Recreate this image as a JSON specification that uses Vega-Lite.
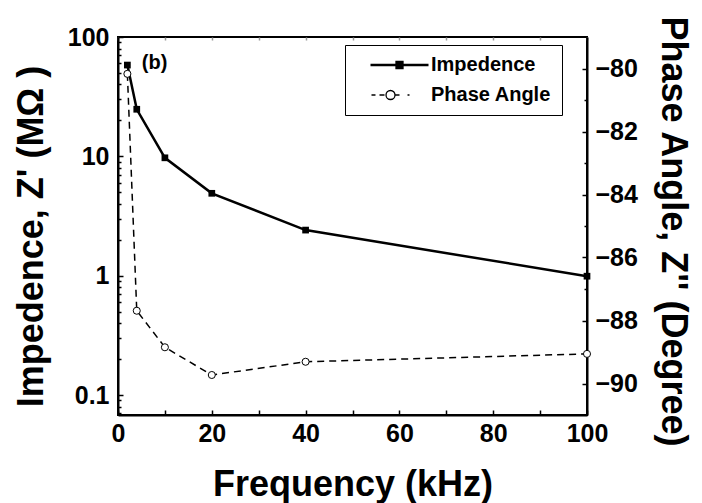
{
  "$schema": "https://vega.github.io/schema/vega-lite/v6.json",
  "autosize": {"type": "none"},
  "padding": {"left": 118, "top": 37, "right": 115, "bottom": 88},
  "width": 469,
  "height": 378,
  "background": "white",
  "datasets": {
    "imp": [
      {"freq": 2, "value": 58.2, "series": "Impedence"},
      {"freq": 4, "value": 24.8, "series": "Impedence"},
      {"freq": 10, "value": 9.72, "series": "Impedence"},
      {"freq": 20, "value": 4.9, "series": "Impedence"},
      {"freq": 40, "value": 2.41, "series": "Impedence"},
      {"freq": 100, "value": 0.99, "series": "Impedence"}
    ],
    "phase": [
      {"freq": 2, "value": -80.17, "series": "Phase Angle"},
      {"freq": 4, "value": -87.69, "series": "Phase Angle"},
      {"freq": 10, "value": -88.85, "series": "Phase Angle"},
      {"freq": 20, "value": -89.73, "series": "Phase Angle"},
      {"freq": 40, "value": -89.31, "series": "Phase Angle"},
      {"freq": 100, "value": -89.06, "series": "Phase Angle"}
    ],
    "series": [{"series": "Impedence"}, {"series": "Phase Angle"}],
    "note": [{"label": "(b)"}]
  },
  "layer": [
    {
      "data": {"name": "imp"},
      "mark": {"type": "line", "color": "black", "strokeWidth": 2.5},
      "encoding": {
        "x": {"field": "freq", "type": "quantitative", "scale": {"domain": [0, 100], "nice": false, "zero": false},
          "axis": {"orient": "bottom", "values": [0, 20, 40, 60, 80, 100], "ticks": false, "tickSize": 0, "labelPadding": 6, "labelFlush": false, "title": "Frequency (kHz)", "titleY": 80, "titleBaseline": "alphabetic"}},
        "y": {"field": "value", "type": "quantitative", "scale": {"type": "log", "domain": [0.068, 100], "nice": false},
          "axis": {"orient": "left", "values": [0.1, 1, 10, 100], "format": "~g", "ticks": false, "tickSize": 0, "labelPadding": 9, "title": "Impedence, Z' (MΩ )", "titleX": -76, "titleY": 199, "titleBaseline": "alphabetic", "titleAlign": "center"}}
      }
    },
    {
      "data": {"name": "imp"},
      "mark": {"type": "point", "shape": "square", "filled": true, "color": "black", "size": 45, "opacity": 1},
      "encoding": {
        "x": {"field": "freq", "type": "quantitative",
          "axis": {"orient": "top", "offset": -378, "values": [0, 10, 20, 30, 40, 50, 60, 70, 80, 90, 100], "tickSize": 5, "labels": false, "domain": false, "title": null}},
        "y": {"field": "value", "type": "quantitative", "scale": {"type": "log", "domain": [0.068, 100], "nice": false},
          "axis": {"orient": "right", "offset": -469, "values": [0.1, 1, 10, 100], "tickSize": 5, "labels": false, "domain": false, "title": null}}
      }
    },
    {
      "data": {"name": "note"},
      "mark": {"type": "text", "font": "Liberation Sans", "fontWeight": "bold", "fontSize": 20, "color": "black", "align": "center", "baseline": "middle"},
      "encoding": {
        "x": {"datum": 7.8, "type": "quantitative",
          "axis": {"orient": "bottom", "offset": -378, "values": [0, 10, 20, 30, 40, 50, 60, 70, 80, 90, 100], "tickSize": 3, "tickColor": "#999999", "labels": false, "domain": false, "title": null}},
        "y": {"datum": 60, "type": "quantitative", "scale": {"type": "log", "domain": [0.068, 100], "nice": false},
          "axis": {"orient": "right", "offset": -469, "values": [0.07, 0.08, 0.09, 0.2, 0.3, 0.4, 0.5, 0.6, 0.7, 0.8, 0.9, 2, 3, 4, 5, 6, 7, 8, 9, 20, 30, 40, 50, 60, 70, 80, 90], "tickSize": 3, "labels": false, "domain": false, "title": null}},
        "text": {"field": "label"}
      }
    },
    {
      "data": {"name": "phase"},
      "mark": {"type": "line", "color": "black", "strokeWidth": 1.5, "strokeDash": [7, 5]},
      "encoding": {
        "x": {"field": "freq", "type": "quantitative", "axis": null},
        "y": {"field": "value", "type": "quantitative", "scale": {"domain": [-91, -79], "nice": false, "zero": false},
          "axis": {"orient": "right", "values": [-80, -82, -84, -86, -88, -90], "ticks": false, "tickSize": 0, "labelPadding": 8, "title": "Phase Angle, Z'' (Degree)", "titleAngle": 90, "titleX": 74, "titleY": 194, "titleBaseline": "alphabetic", "titleAlign": "center"}}
      }
    },
    {
      "data": {"name": "phase"},
      "mark": {"type": "point", "shape": "circle", "filled": true, "fill": "white", "stroke": "black", "strokeWidth": 1, "size": 50, "opacity": 1},
      "encoding": {
        "x": {"field": "freq", "type": "quantitative", "axis": null},
        "y": {"field": "value", "type": "quantitative", "scale": {"domain": [-91, -79], "nice": false, "zero": false},
          "axis": {"orient": "left", "offset": -469, "values": [-80, -82, -84, -86, -88, -90], "tickSize": 5, "labels": false, "domain": false, "title": null}}
      }
    },
    {
      "data": {"name": "phase"},
      "mark": {"type": "point", "opacity": 0},
      "encoding": {
        "x": {"field": "freq", "type": "quantitative", "axis": null},
        "y": {"field": "value", "type": "quantitative", "scale": {"domain": [-91, -79], "nice": false, "zero": false},
          "axis": {"orient": "left", "offset": -469, "values": [-81, -83, -85, -87, -89], "tickSize": 3, "labels": false, "domain": false, "title": null}}
      }
    },
    {
      "data": {"name": "series"},
      "mark": {"type": "point", "filled": false, "color": "black", "stroke": "black", "opacity": 0},
      "encoding": {
        "shape": {"field": "series", "type": "nominal",
          "scale": {"domain": ["Impedence", "Phase Angle"], "range": ["M-1,0H1M-0.1,-0.1H0.1V0.1H-0.1Z", "M-0.966,0H-0.828M-0.69,0H-0.517M-0.155,0A0.155,0.155 0 1,1 -0.465,0A0.155,0.155 0 1,1 -0.155,0M-0.155,0H0M0.276,0H0.345"]},
          "legend": {
            "orient": "none", "legendX": 227, "legendY": 8, "title": null,
            "strokeColor": "black", "fillColor": "white", "padding": 10,
            "labelFont": "Liberation Sans", "labelFontWeight": "bold", "labelFontSize": 20, "labelColor": "black",
            "symbolSize": 3364, "symbolOpacity": 1, "clipHeight": 20, "rowPadding": 10, "symbolOffset": 14, "labelOffset": 1,
            "labelExpr": "datum.label + '\u00a0\u00a0\u00a0\u00a0\u00a0\u00a0'"
          }},
        "fill": {"field": "series", "type": "nominal",
          "scale": {"domain": ["Impedence", "Phase Angle"], "range": ["black", "white"]},
          "legend": {
            "orient": "none", "legendX": 227, "legendY": 8, "title": null,
            "strokeColor": "black", "fillColor": "white", "padding": 10,
            "labelFont": "Liberation Sans", "labelFontWeight": "bold", "labelFontSize": 20, "labelColor": "black",
            "symbolSize": 3364, "symbolOpacity": 1, "clipHeight": 20, "rowPadding": 10, "symbolOffset": 14, "labelOffset": 1,
            "labelExpr": "datum.label + '\u00a0\u00a0\u00a0\u00a0\u00a0\u00a0'"
          }},
        "strokeWidth": {"field": "series", "type": "nominal",
          "scale": {"type": "ordinal", "domain": ["Impedence", "Phase Angle"], "range": [2.5, 1.3]},
          "legend": {
            "orient": "none", "legendX": 227, "legendY": 8, "title": null,
            "strokeColor": "black", "fillColor": "white", "padding": 10,
            "labelFont": "Liberation Sans", "labelFontWeight": "bold", "labelFontSize": 20, "labelColor": "black",
            "symbolSize": 3364, "symbolOpacity": 1, "clipHeight": 20, "rowPadding": 10, "symbolOffset": 14, "labelOffset": 1,
            "labelExpr": "datum.label + '\u00a0\u00a0\u00a0\u00a0\u00a0\u00a0'"
          }}
      }
    }
  ],
  "resolve": {"scale": {"y": "independent"}, "axis": {"x": "independent", "y": "independent"}},
  "config": {
    "font": "Liberation Sans",
    "view": {"stroke": "black", "strokeWidth": 2},
    "axis": {
      "grid": false,
      "labelFont": "Liberation Sans", "labelFontWeight": "bold", "labelFontSize": 25, "labelColor": "black",
      "titleFont": "Liberation Sans", "titleFontWeight": "bold", "titleFontSize": 36, "titleColor": "black",
      "domainColor": "black", "domainWidth": 2, "tickColor": "black", "tickWidth": 1.5
    }
  }
}
